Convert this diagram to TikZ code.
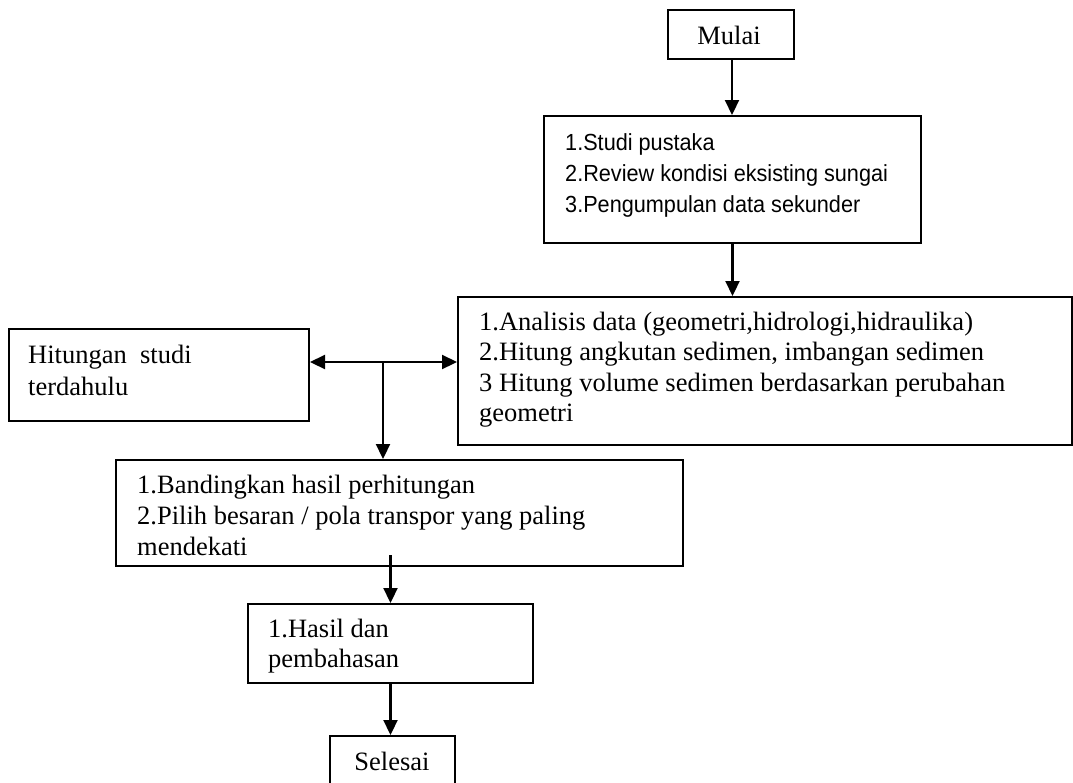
\documentclass[tikz,border=0pt]{standalone}
\usepackage{fontspec}
\usepackage{graphicx}
\setmainfont{Liberation Serif}
\newfontfamily\arialfont{Liberation Sans}
\usetikzlibrary{arrows.meta}
\newcommand{\narrowline}[1]{\scalebox{0.93}[1]{#1}}
\tikzset{
  boxnode/.style={draw, line width=2pt, inner sep=0pt, anchor=north west},
  txt/.style={anchor=base west, inner sep=0pt, align=flush left, text width=640pt,
    font=\fontsize{26.5}{30.5}\selectfont},
  txtsans/.style={anchor=base west, inner sep=0pt, align=flush left, text width=400pt,
    font=\arialfont\fontsize{23.3}{31}\selectfont},
  arr/.style={line width=2.2pt, -{Triangle[width=14pt,length=15pt]}},
  arrtwo/.style={line width=2.2pt, {Triangle[width=14pt,length=15pt]}-{Triangle[width=14pt,length=15pt]}}
}
\begin{document}
\begin{tikzpicture}[x=1pt,y=-1pt]
\useasboundingbox (0,0) rectangle (1073,782);
% boxes
\node[boxnode, minimum width=126pt, minimum height=49pt] (mulai) at (667,9) {};
\node[boxnode, minimum width=377pt, minimum height=127pt] (b2) at (543,115) {};
\node[boxnode, minimum width=614pt, minimum height=148pt] (b3) at (457,296) {};
\node[boxnode, minimum width=300pt, minimum height=92pt] (hit) at (8,328) {};
\node[boxnode, minimum width=567pt, minimum height=106pt] (b4) at (115,459) {};
\node[boxnode, minimum width=285pt, minimum height=79pt] (b5) at (247,603) {};
\node[boxnode, minimum width=125pt, minimum height=70pt] (selesai) at (329,735) {};
% texts
\node[anchor=base, inner sep=0pt, font=\fontsize{26.5}{30.5}\selectfont] (tmulai) at (729,44) {Mulai};
\node[txtsans] (tb2) at (565,150) {\narrowline{1.Studi pustaka}\\\narrowline{2.Review kondisi eksisting sungai}\\\narrowline{3.Pengumpulan data sekunder}};
\node[txt] (tb3) at (479,330) {1.Analisis data (geometri,hidrologi,hidraulika)\\2.Hitung angkutan sedimen, imbangan sedimen\\3 Hitung volume sedimen berdasarkan perubahan\\geometri};
\node[txt, font=\fontsize{26.5}{32}\selectfont] (thit) at (28,363) {Hitungan\ \ studi\\terdahulu};
\node[txt, font=\fontsize{26.5}{31}\selectfont] (tb4) at (137,493) {1.Bandingkan hasil perhitungan\\2.Pilih besaran / pola transpor yang paling\\mendekati};
\node[txt, font=\fontsize{26.5}{30}\selectfont] (tb5) at (268,637) {1.Hasil dan\\pembahasan};
\node[anchor=base, inner sep=0pt, font=\fontsize{26.5}{30.5}\selectfont] (tsel) at (392,770) {Selesai};
% connectors
\coordinate (j) at (383,362);
\coordinate (m) at (732,58);
\draw[arr] (m) -- (m |- b2.north);
\draw[arr] (b2.south) -- (b2.south |- b3.north);
\draw[arrtwo] (hit.east |- j) -- (b3.west |- j);
\draw[arr] (j) -- (j |- b4.north);
\draw[arr] ([yshift=12pt]b4.south -| b5.north) -- (b5.north);
\draw[arr] (b5.south) -- (b5.south |- selesai.north);
\end{tikzpicture}
\end{document}
